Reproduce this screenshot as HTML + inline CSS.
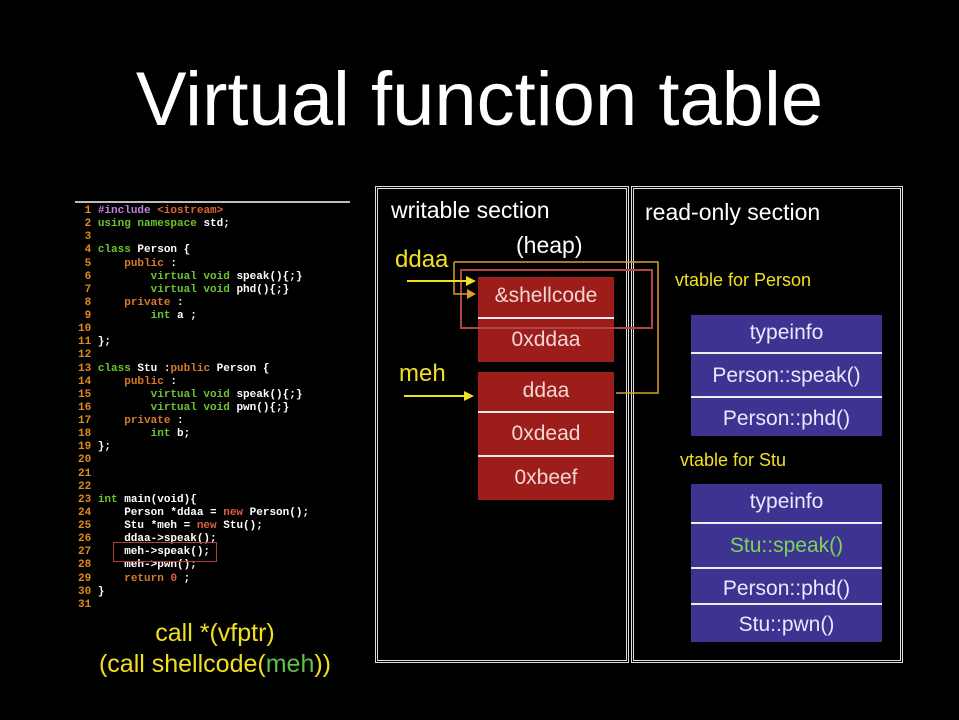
<!DOCTYPE html><html><head><style>
body{margin:0;width:959px;height:720px;background:#000;overflow:hidden;position:relative;font-family:"Liberation Sans",sans-serif}
.a{position:absolute}
.t{color:#fff;white-space:nowrap}
pre{position:absolute;left:78px;top:205px;margin:0;font:bold 11px/13.13px "Liberation Mono",monospace;color:#fff}
.n{color:#e08a1e}.g{color:#6cc431}.o{color:#d77a2a}.r{color:#e0603a}
.cell{position:absolute;color:#f3d6d6;font-size:21px;text-align:center;background:#9c1d1a}
.v{position:absolute;color:#e8e8ff;font-size:21px;text-align:center;background:#3c3490}
.ln{position:absolute;height:2px;background:#eee}
</style></head><body>
<div class="a t" style="left:0;width:959px;text-align:center;top:56px;font-size:76px">Virtual function table</div>
<div class="a" style="left:75px;top:201px;width:275px;height:2px;background:#bbb"></div>
<pre><span class="n"> 1</span> <span style="color:#c080e0">#include</span> <span class="r">&lt;iostream&gt;</span>
<span class="n"> 2</span> <span class="g">using namespace</span> std;
<span class="n"> 3</span>
<span class="n"> 4</span> <span class="g">class</span> Person {
<span class="n"> 5</span>     <span class="o">public</span> :
<span class="n"> 6</span>         <span class="g">virtual void</span> speak(){;}
<span class="n"> 7</span>         <span class="g">virtual void</span> phd(){;}
<span class="n"> 8</span>     <span class="o">private</span> :
<span class="n"> 9</span>         <span class="g">int</span> a ;
<span class="n">10</span>
<span class="n">11</span> };
<span class="n">12</span>
<span class="n">13</span> <span class="g">class</span> Stu :<span class="o">public</span> Person {
<span class="n">14</span>     <span class="o">public</span> :
<span class="n">15</span>         <span class="g">virtual void</span> speak(){;}
<span class="n">16</span>         <span class="g">virtual void</span> pwn(){;}
<span class="n">17</span>     <span class="o">private</span> :
<span class="n">18</span>         <span class="g">int</span> b;
<span class="n">19</span> };
<span class="n">20</span>
<span class="n">21</span>
<span class="n">22</span>
<span class="n">23</span> <span class="g">int</span> main(void){
<span class="n">24</span>     Person *ddaa = <span class="r">new</span> Person();
<span class="n">25</span>     Stu *meh = <span class="r">new</span> Stu();
<span class="n">26</span>     ddaa-&gt;speak();
<span class="n">27</span>     meh-&gt;speak();
<span class="n">28</span>     meh-&gt;pwn();
<span class="n">29</span>     <span class="o">return</span> <span class="r">0</span> ;
<span class="n">30</span> }
<span class="n">31</span></pre>
<div class="a" style="left:113px;top:542px;width:102px;height:18px;border:1px solid #b04040"></div>
<div class="a" style="left:40px;width:350px;text-align:center;top:618px;font-size:25px;color:#f0e020;line-height:31px">call *(vfptr)<br>(call shellcode(<span style="color:#5fc04a">meh</span>))</div>
<div class="a" style="left:375px;top:186px;width:248px;height:471px;border:3px double #ddd"></div>
<div class="a" style="left:631px;top:186px;width:266px;height:471px;border:3px double #ddd"></div>
<div class="a t" style="left:391px;top:197px;font-size:23px">writable section</div>
<div class="a t" style="left:516px;top:232px;font-size:23px">(heap)</div>
<div class="a t" style="left:645px;top:199px;font-size:23px">read-only section</div>
<div class="a t" style="left:395px;top:246px;font-size:24px;color:#f0e020">ddaa</div>
<div class="a t" style="left:399px;top:360px;font-size:24px;color:#f0e020">meh</div>
<div class="a t" style="left:675px;top:270px;font-size:18px;color:#f0e020">vtable for Person</div>
<div class="a t" style="left:680px;top:450px;font-size:18px;color:#f0e020">vtable for Stu</div>
<div class="cell" style="left:478px;top:277px;width:136px;height:41px;line-height:38px">&amp;shellcode</div>
<div class="cell" style="left:478px;top:318px;width:136px;height:44px;line-height:44px">0xddaa</div>
<div class="ln" style="left:478px;top:317px;width:136px"></div>
<div class="cell" style="left:478px;top:372px;width:136px;height:40px;line-height:38px">ddaa</div>
<div class="cell" style="left:478px;top:412px;width:136px;height:44px;line-height:44px">0xdead</div>
<div class="cell" style="left:478px;top:456px;width:136px;height:44px;line-height:44px">0xbeef</div>
<div class="ln" style="left:478px;top:411px;width:136px"></div>
<div class="ln" style="left:478px;top:455px;width:136px"></div>
<div class="v" style="left:691px;top:315px;width:191px;height:37px;line-height:36px">typeinfo</div>
<div class="v" style="left:691px;top:352px;width:191px;height:44px;line-height:48px">Person::speak()</div>
<div class="v" style="left:691px;top:396px;width:191px;height:40px;line-height:46px">Person::phd()</div>
<div class="ln" style="left:691px;top:352px;width:191px"></div>
<div class="ln" style="left:691px;top:396px;width:191px"></div>
<div class="v" style="left:691px;top:484px;width:191px;height:38px;line-height:36px">typeinfo</div>
<div class="v" style="left:691px;top:522px;width:191px;height:45px;line-height:48px;color:#7fd35a">Stu::speak()</div>
<div class="v" style="left:691px;top:567px;width:191px;height:36px;line-height:44px">Person::phd()</div>
<div class="v" style="left:691px;top:603px;width:191px;height:39px;line-height:44px">Stu::pwn()</div>
<div class="ln" style="left:691px;top:522px;width:191px"></div>
<div class="ln" style="left:691px;top:567px;width:191px"></div>
<div class="ln" style="left:691px;top:603px;width:191px"></div>
<svg class="a" style="left:0;top:0" width="959" height="720">
<rect x="461" y="270" width="191" height="58" fill="none" stroke="#b04545" stroke-width="2"/>
<polyline points="454,262 658,262 658,393 616,393" fill="none" stroke="#d8a030" stroke-width="1.5"/>
<polyline points="454,262 454,294 470,294" fill="none" stroke="#d8a030" stroke-width="1.5"/>
<polygon points="476,294 467,289 467,299" fill="#d8a030"/>
<line x1="407" y1="281" x2="468" y2="281" stroke="#f0e020" stroke-width="2"/>
<polygon points="476,281 466,276 466,286" fill="#f0e020"/>
<line x1="404" y1="396" x2="466" y2="396" stroke="#f0e020" stroke-width="2"/>
<polygon points="474,396 464,391 464,401" fill="#f0e020"/>
</svg>
</body></html>
